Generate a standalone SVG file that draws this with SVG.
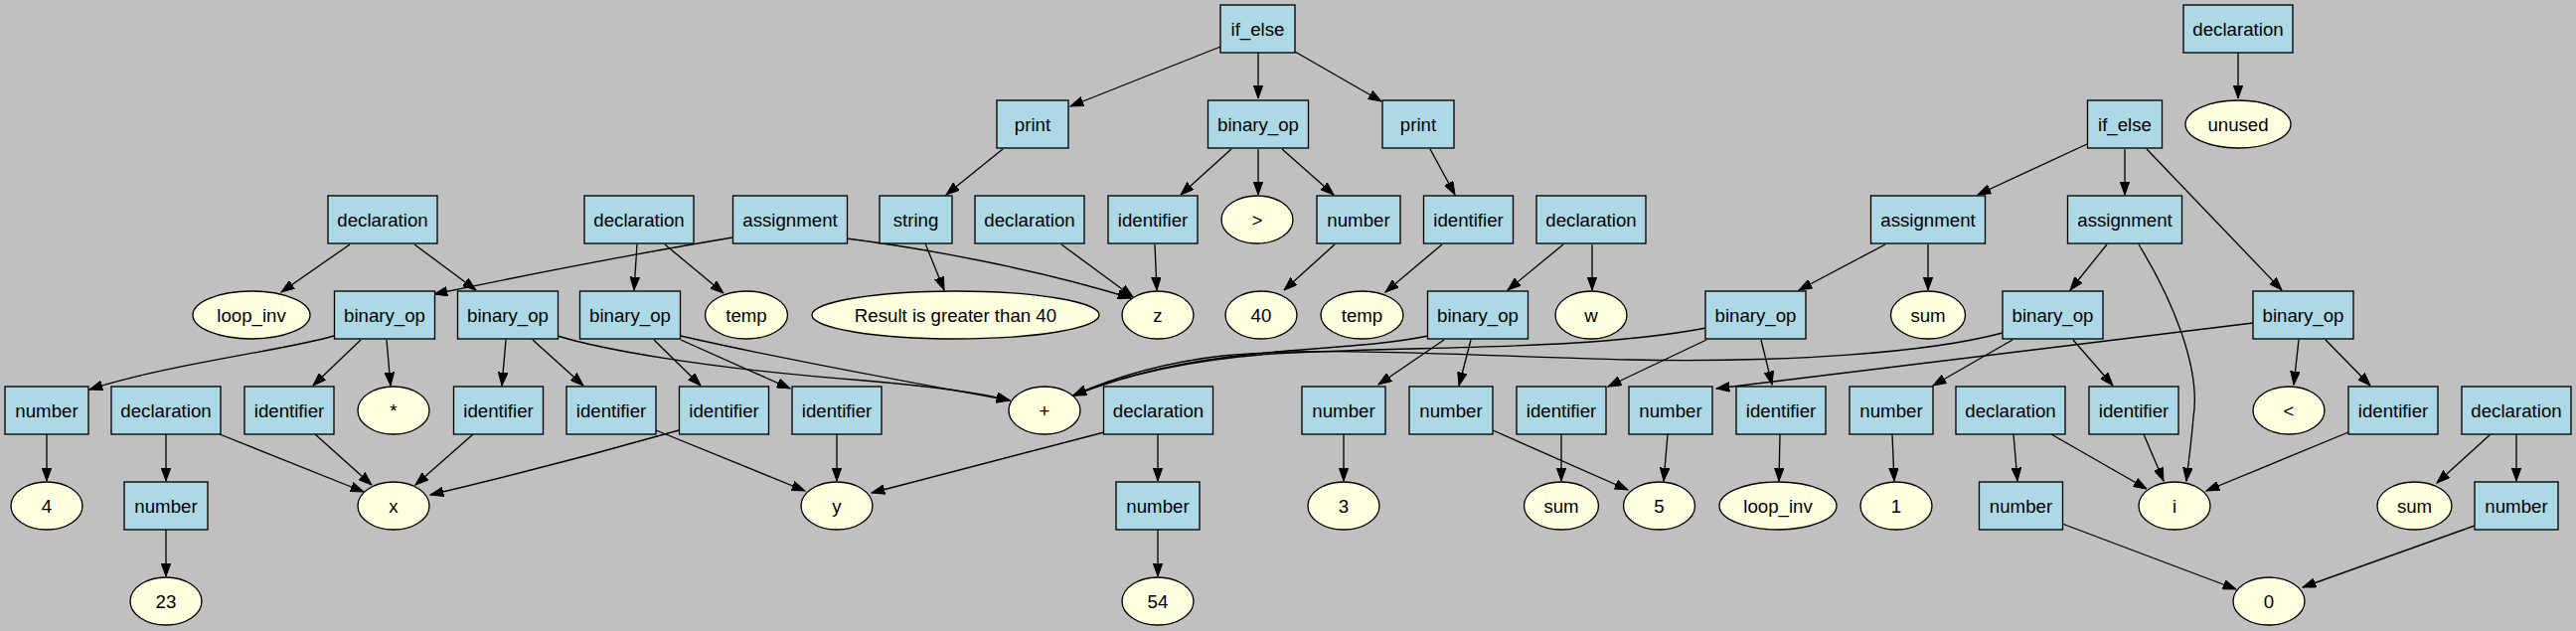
<svg xmlns="http://www.w3.org/2000/svg" width="2592" height="635" viewBox="0 0 2592 635">
<defs>
<marker id="ah" markerWidth="14" markerHeight="10" viewBox="0 -5 14 10" refX="13.3" refY="0" orient="auto" markerUnits="userSpaceOnUse">
<path d="M0,-4.8 L13.3,0 L0,4.8 z" fill="#000" stroke="#000" stroke-width="1"/>
</marker>
<style>
.b rect{fill:#add8e6;stroke:#000;stroke-width:1.33}
.o ellipse{fill:#ffffe0;stroke:#000;stroke-width:1.33}
text{font-family:"Liberation Sans",Arial,sans-serif;font-size:18.67px;text-anchor:middle;fill:#000}
#edges path{fill:none;stroke:#000;stroke-width:1.33;marker-end:url(#ah)}
</style>
</defs>
<rect x="0" y="0" width="2592" height="635" fill="#c0c0c0"/>
<g id="edges">
<path d="M352,246 L283,294"/>
<path d="M417,246 L479,292"/>
<path d="M336,338 C290,352 170,366 90,392"/>
<path d="M363,342 L315,388"/>
<path d="M389,342 L393,388"/>
<path d="M47,437 L47,484"/>
<path d="M167,437 L167,484"/>
<path d="M167,533 L167,580"/>
<path d="M221,437 L366,495"/>
<path d="M317,437 L374,488"/>
<path d="M476,437 L418,488"/>
<path d="M683,433 Q560,468 433,498"/>
<path d="M641,246 L638,292"/>
<path d="M669,246 L728,295"/>
<path d="M737,239 Q600,262 437,296"/>
<path d="M852,240 C930,250 1040,270 1138,300"/>
<path d="M509,342 L505,388"/>
<path d="M536,342 L587,388"/>
<path d="M561,338 C600,350 700,370 870,383 C940,389 985,395 1016,403"/>
<path d="M658,342 L705,388"/>
<path d="M685,342 L795,391"/>
<path d="M685,338 C780,360 900,382 1016,403"/>
<path d="M660,433 L810,494"/>
<path d="M842,437 L842,484"/>
<path d="M1228,47 L1077,107"/>
<path d="M1266,53 L1266,99"/>
<path d="M1009,150 L952,196"/>
<path d="M931,245 L950,292"/>
<path d="M1068,246 L1140,299"/>
<path d="M1162,246 L1164,292"/>
<path d="M1239,150 L1188,196"/>
<path d="M1266,150 L1266,196"/>
<path d="M1111,435 L877,496"/>
<path d="M1165,437 L1165,484"/>
<path d="M1165,533 L1165,580"/>
<path d="M1303,52 L1390,102"/>
<path d="M1290,150 L1342,196"/>
<path d="M1343,246 L1292,292"/>
<path d="M1439,150 L1464,196"/>
<path d="M1451,246 L1394,294"/>
<path d="M1573,246 L1517,292"/>
<path d="M1602,246 L1602,292"/>
<path d="M1453,342 L1387,387"/>
<path d="M1480,342 L1468,388"/>
<path d="M1437,338 C1380,350 1300,350 1230,360 C1170,368 1120,382 1080,398"/>
<path d="M1717,330 C1600,352 1450,348 1300,355 C1200,360 1130,378 1080,398"/>
<path d="M2015,335 C1940,355 1800,365 1640,362 C1480,358 1330,348 1230,358 C1170,365 1120,380 1080,398"/>
<path d="M1352,437 L1352,484"/>
<path d="M1502,433 L1638,493"/>
<path d="M1571,437 L1571,484"/>
<path d="M1678,437 L1674,484"/>
<path d="M1717,342 L1618,389"/>
<path d="M2267,325 L1727,391"/>
<path d="M1772,342 L1783,387"/>
<path d="M1791,437 L1790,484"/>
<path d="M1904,437 L1906,484"/>
<path d="M2025,342 L1945,388"/>
<path d="M2086,342 L2126,388"/>
<path d="M1897,246 L1810,292"/>
<path d="M1940,246 L1940,292"/>
<path d="M2100,145 L1990,196"/>
<path d="M2138,150 L2138,196"/>
<path d="M2120,246 L2083,292"/>
<path d="M2026,437 L2030,484"/>
<path d="M2064,437 L2160,492"/>
<path d="M2075,527 L2250,593"/>
<path d="M2160,150 L2296,292"/>
<path d="M2152,246 C2185,300 2215,370 2207,420 C2205,445 2202,465 2200,484"/>
<path d="M2157,437 L2177,484"/>
<path d="M2363,435 L2220,494"/>
<path d="M2313,342 L2308,387"/>
<path d="M2340,342 L2385,388"/>
<path d="M2506,437 L2452,486"/>
<path d="M2532,437 L2532,484"/>
<path d="M2490,529 L2317,591"/>
<path d="M2252,53 L2252,99"/>
</g>
<g id="n_ifelse1" class="b"><rect x="1228" y="5" width="75" height="48"/><text x="1265.5" y="35.5">if_else</text></g>
<g id="n_decl_unused" class="b"><rect x="2197" y="5" width="110" height="48"/><text x="2252" y="35.5">declaration</text></g>
<g id="n_print1" class="b"><rect x="1003" y="101" width="72" height="48"/><text x="1039" y="131.5">print</text></g>
<g id="n_binop_gt" class="b"><rect x="1215.5" y="101" width="101" height="48"/><text x="1266" y="131.5">binary_op</text></g>
<g id="n_print2" class="b"><rect x="1391" y="101" width="72" height="48"/><text x="1427" y="131.5">print</text></g>
<g id="n_ifelse2" class="b"><rect x="2100.5" y="101" width="75" height="48"/><text x="2138" y="131.5">if_else</text></g>
<g id="n_unused" class="o"><ellipse cx="2252" cy="125" rx="53" ry="24"/><text x="2252" y="131.5">unused</text></g>
<g id="n_decl_a" class="b"><rect x="330" y="197" width="110" height="48"/><text x="385" y="227.5">declaration</text></g>
<g id="n_decl_b" class="b"><rect x="588" y="197" width="110" height="48"/><text x="643" y="227.5">declaration</text></g>
<g id="n_assign_a" class="b"><rect x="737.5" y="197" width="115" height="48"/><text x="795" y="227.5">assignment</text></g>
<g id="n_string" class="b"><rect x="885" y="197" width="73" height="48"/><text x="921.5" y="227.5">string</text></g>
<g id="n_decl_z" class="b"><rect x="981" y="197" width="110" height="48"/><text x="1036" y="227.5">declaration</text></g>
<g id="n_ident_z" class="b"><rect x="1115" y="197" width="90" height="48"/><text x="1160" y="227.5">identifier</text></g>
<g id="n_gt" class="o"><ellipse cx="1265" cy="221" rx="36" ry="24"/><text x="1265" y="227.5">&gt;</text></g>
<g id="n_number_40" class="b"><rect x="1325" y="197" width="84" height="48"/><text x="1367" y="227.5">number</text></g>
<g id="n_ident_temp" class="b"><rect x="1432.5" y="197" width="90" height="48"/><text x="1477.5" y="227.5">identifier</text></g>
<g id="n_decl_w" class="b"><rect x="1546" y="197" width="110" height="48"/><text x="1601" y="227.5">declaration</text></g>
<g id="n_assign_sum" class="b"><rect x="1882.5" y="197" width="115" height="48"/><text x="1940" y="227.5">assignment</text></g>
<g id="n_assign_i" class="b"><rect x="2080.5" y="197" width="115" height="48"/><text x="2138" y="227.5">assignment</text></g>
<g id="n_loopinv1" class="o"><ellipse cx="253" cy="317" rx="59" ry="24"/><text x="253" y="323.5">loop_inv</text></g>
<g id="n_binop_mul" class="b"><rect x="336.5" y="293" width="101" height="48"/><text x="387" y="323.5">binary_op</text></g>
<g id="n_binop_b" class="b"><rect x="460.5" y="293" width="101" height="48"/><text x="511" y="323.5">binary_op</text></g>
<g id="n_binop_c" class="b"><rect x="583.5" y="293" width="101" height="48"/><text x="634" y="323.5">binary_op</text></g>
<g id="n_temp1" class="o"><ellipse cx="751" cy="317" rx="41.5" ry="24"/><text x="751" y="323.5">temp</text></g>
<g id="n_result" class="o"><ellipse cx="961.5" cy="317" rx="144.5" ry="24"/><text x="961.5" y="323.5">Result is greater than 40</text></g>
<g id="n_z" class="o"><ellipse cx="1165" cy="317" rx="36" ry="24"/><text x="1165" y="323.5">z</text></g>
<g id="n_40" class="o"><ellipse cx="1269" cy="317" rx="36" ry="24"/><text x="1269" y="323.5">40</text></g>
<g id="n_temp2" class="o"><ellipse cx="1370.5" cy="317" rx="41.5" ry="24"/><text x="1370.5" y="323.5">temp</text></g>
<g id="n_binop_w" class="b"><rect x="1436.5" y="293" width="101" height="48"/><text x="1487" y="323.5">binary_op</text></g>
<g id="n_w" class="o"><ellipse cx="1601" cy="317" rx="36" ry="24"/><text x="1601" y="323.5">w</text></g>
<g id="n_binop_sum" class="b"><rect x="1716" y="293" width="101" height="48"/><text x="1766.5" y="323.5">binary_op</text></g>
<g id="n_sum1" class="o"><ellipse cx="1940" cy="317" rx="37.5" ry="24"/><text x="1940" y="323.5">sum</text></g>
<g id="n_binop_i" class="b"><rect x="2015" y="293" width="101" height="48"/><text x="2065.5" y="323.5">binary_op</text></g>
<g id="n_binop_lt" class="b"><rect x="2267" y="293" width="101" height="48"/><text x="2317.5" y="323.5">binary_op</text></g>
<g id="n_number_4" class="b"><rect x="5" y="389" width="84" height="48"/><text x="47" y="419.5">number</text></g>
<g id="n_decl_x" class="b"><rect x="112" y="389" width="110" height="48"/><text x="167" y="419.5">declaration</text></g>
<g id="n_ident_x1" class="b"><rect x="246" y="389" width="90" height="48"/><text x="291" y="419.5">identifier</text></g>
<g id="n_mul" class="o"><ellipse cx="396" cy="413" rx="36" ry="24"/><text x="396" y="419.5">*</text></g>
<g id="n_ident_x2" class="b"><rect x="456.5" y="389" width="90" height="48"/><text x="501.5" y="419.5">identifier</text></g>
<g id="n_ident_y1" class="b"><rect x="570" y="389" width="90" height="48"/><text x="615" y="419.5">identifier</text></g>
<g id="n_ident_x3" class="b"><rect x="683.5" y="389" width="90" height="48"/><text x="728.5" y="419.5">identifier</text></g>
<g id="n_ident_y2" class="b"><rect x="797" y="389" width="90" height="48"/><text x="842" y="419.5">identifier</text></g>
<g id="n_plus" class="o"><ellipse cx="1051" cy="413" rx="36" ry="24"/><text x="1051" y="419.5">+</text></g>
<g id="n_decl_y" class="b"><rect x="1110.5" y="389" width="110" height="48"/><text x="1165.5" y="419.5">declaration</text></g>
<g id="n_number_3" class="b"><rect x="1310" y="389" width="84" height="48"/><text x="1352" y="419.5">number</text></g>
<g id="n_number_5a" class="b"><rect x="1418" y="389" width="84" height="48"/><text x="1460" y="419.5">number</text></g>
<g id="n_ident_sum" class="b"><rect x="1526" y="389" width="90" height="48"/><text x="1571" y="419.5">identifier</text></g>
<g id="n_number_5b" class="b"><rect x="1639" y="389" width="84" height="48"/><text x="1681" y="419.5">number</text></g>
<g id="n_ident_loopinv" class="b"><rect x="1747" y="389" width="90" height="48"/><text x="1792" y="419.5">identifier</text></g>
<g id="n_number_1" class="b"><rect x="1861" y="389" width="84" height="48"/><text x="1903" y="419.5">number</text></g>
<g id="n_decl_i" class="b"><rect x="1968" y="389" width="110" height="48"/><text x="2023" y="419.5">declaration</text></g>
<g id="n_ident_i1" class="b"><rect x="2102" y="389" width="90" height="48"/><text x="2147" y="419.5">identifier</text></g>
<g id="n_lt" class="o"><ellipse cx="2303" cy="413" rx="36" ry="24"/><text x="2303" y="419.5">&lt;</text></g>
<g id="n_ident_i2" class="b"><rect x="2363" y="389" width="90" height="48"/><text x="2408" y="419.5">identifier</text></g>
<g id="n_decl_sum" class="b"><rect x="2477" y="389" width="110" height="48"/><text x="2532" y="419.5">declaration</text></g>
<g id="n_4" class="o"><ellipse cx="47" cy="509" rx="36" ry="24"/><text x="47" y="515.5">4</text></g>
<g id="n_number_23" class="b"><rect x="125" y="485" width="84" height="48"/><text x="167" y="515.5">number</text></g>
<g id="n_x" class="o"><ellipse cx="396" cy="509" rx="36" ry="24"/><text x="396" y="515.5">x</text></g>
<g id="n_y" class="o"><ellipse cx="842" cy="509" rx="36" ry="24"/><text x="842" y="515.5">y</text></g>
<g id="n_number_54" class="b"><rect x="1123" y="485" width="84" height="48"/><text x="1165" y="515.5">number</text></g>
<g id="n_3" class="o"><ellipse cx="1352" cy="509" rx="36" ry="24"/><text x="1352" y="515.5">3</text></g>
<g id="n_sum2" class="o"><ellipse cx="1571" cy="509" rx="37.5" ry="24"/><text x="1571" y="515.5">sum</text></g>
<g id="n_5" class="o"><ellipse cx="1669.5" cy="509" rx="36" ry="24"/><text x="1669.5" y="515.5">5</text></g>
<g id="n_loopinv2" class="o"><ellipse cx="1789" cy="509" rx="59" ry="24"/><text x="1789" y="515.5">loop_inv</text></g>
<g id="n_1" class="o"><ellipse cx="1908" cy="509" rx="36" ry="24"/><text x="1908" y="515.5">1</text></g>
<g id="n_number_0a" class="b"><rect x="1991.5" y="485" width="84" height="48"/><text x="2033.5" y="515.5">number</text></g>
<g id="n_i" class="o"><ellipse cx="2188" cy="509" rx="36" ry="24"/><text x="2188" y="515.5">i</text></g>
<g id="n_sum3" class="o"><ellipse cx="2429.5" cy="509" rx="37.5" ry="24"/><text x="2429.5" y="515.5">sum</text></g>
<g id="n_number_0b" class="b"><rect x="2490" y="485" width="84" height="48"/><text x="2532" y="515.5">number</text></g>
<g id="n_23" class="o"><ellipse cx="167" cy="605" rx="36" ry="24"/><text x="167" y="611.5">23</text></g>
<g id="n_54" class="o"><ellipse cx="1165" cy="605" rx="36" ry="24"/><text x="1165" y="611.5">54</text></g>
<g id="n_0" class="o"><ellipse cx="2283" cy="605" rx="36" ry="24"/><text x="2283" y="611.5">0</text></g>
</svg>
